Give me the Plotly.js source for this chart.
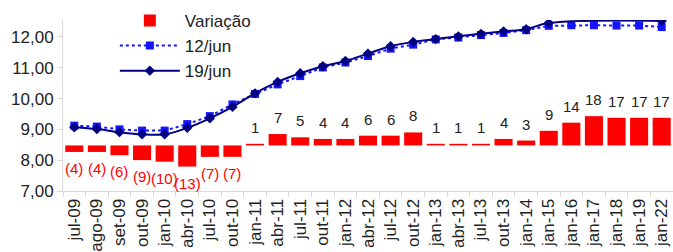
<!DOCTYPE html>
<html><head><meta charset="utf-8">
<script src="https://cdn.plot.ly/plotly-3.0.1.min.js"></script>
<style>html,body{margin:0;padding:0;overflow:hidden;background:#fff}</style>
</head><body><div id="chart" style="width:673px;height:252px"></div>
<script>
const categories = ["jul-09","ago-09","set-09","out-09","jan-10","abr-10","jul-10","out-10","jan-11","abr-11","jul-11","out-11","jan-12","abr-12","jul-12","out-12","jan-13","abr-13","jul-13","out-13","jan-14","jan-15","jan-16","jan-17","jan-18","jan-19","jan-22"];
const variacao = [-4,-4,-6,-9,-10,-13,-7,-7,1,7,5,4,4,6,6,8,1,1,1,4,3,9,14,18,17,17,17];
const jun12 = [9.12,9.09,9.00,8.96,8.96,9.17,9.43,9.81,10.15,10.46,10.73,11.01,11.17,11.38,11.62,11.75,11.92,11.98,12.06,12.13,12.22,12.36,12.38,12.38,12.37,12.37,12.32];
const jun19 = [9.07,9.01,8.91,8.84,8.84,9.05,9.36,9.73,10.17,10.54,10.82,11.05,11.22,11.46,11.70,11.84,11.93,12.02,12.10,12.18,12.25,12.45,null,null,null,null,12.52];

const font = "Liberation Sans, Arial, sans-serif";
const traces = [
  {type:"bar", name:"Variação", x:categories, y:variacao, yaxis:"y",
   marker:{color:"#ff0000"}, width:0.8, hoverinfo:"none"},
  {type:"scatter", mode:"lines+markers", name:"12/jun", x:categories, y:jun12, yaxis:"y2",
   line:{color:"#1414ff", width:2, dash:"dot"}, marker:{symbol:"square", size:8, color:"#1414ff"}},
  {type:"scatter", mode:"lines+markers", name:"19/jun", x:categories, y:jun19, yaxis:"y2",
   connectgaps:true, line:{color:"#000080", width:2, shape:"spline", smoothing:1},
   marker:{symbol:"diamond", size:8, color:"#000080"}}
];
const annotations = variacao.map((v,i)=>({
  x:categories[i], y:v, xref:"x", yref:"y",
  text: v<0 ? "("+(-v)+")" : String(v),
  showarrow:false,
  yanchor: v<0 ? "top" : "bottom",
  yshift: v<0 ? -6 : 6,
  font:{family:font, size:15, color: v<0 ? "#ff0000" : "#222"}
}));
const layout = {
  width:673, height:252,
  margin:{l:63, r:0, t:20, b:61},
  paper_bgcolor:"#fff", plot_bgcolor:"#fff",
  font:{family:font, size:15, color:"#222"},
  separators:",.",
  showlegend:true,
  legend:{x:0.085, y:1.1, xanchor:"left", yanchor:"top", bgcolor:"rgba(0,0,0,0)",
    font:{family:font, size:17, color:"#222"}, tracegroupgap:0, itemwidth:60},
  bargap:0.2,
  xaxis:{type:"category", range:[-0.5,26.5], tickangle:-90, showline:true, linecolor:"#d9d9d9", linewidth:1,
    ticks:"outside", tickson:"boundaries", ticklen:5, tickcolor:"#d9d9d9", showgrid:false,
    tickfont:{family:font, size:17, color:"#222"}, zeroline:false},
  yaxis:{range:[-28,77.1], visible:false, showgrid:false, zeroline:false, fixedrange:true},
  yaxis2:{overlaying:"y", side:"left", range:[7,12.55], tickvals:[7,8,9,10,11,12], tickformat:".2f",
    showline:true, linecolor:"#d9d9d9", ticks:"outside", ticklen:5, tickcolor:"#d9d9d9",
    showgrid:false, zeroline:false, tickfont:{family:font, size:17, color:"#222"}},
  annotations:annotations
};
Plotly.newPlot("chart", traces, layout, {staticPlot:true});
</script></body></html>
